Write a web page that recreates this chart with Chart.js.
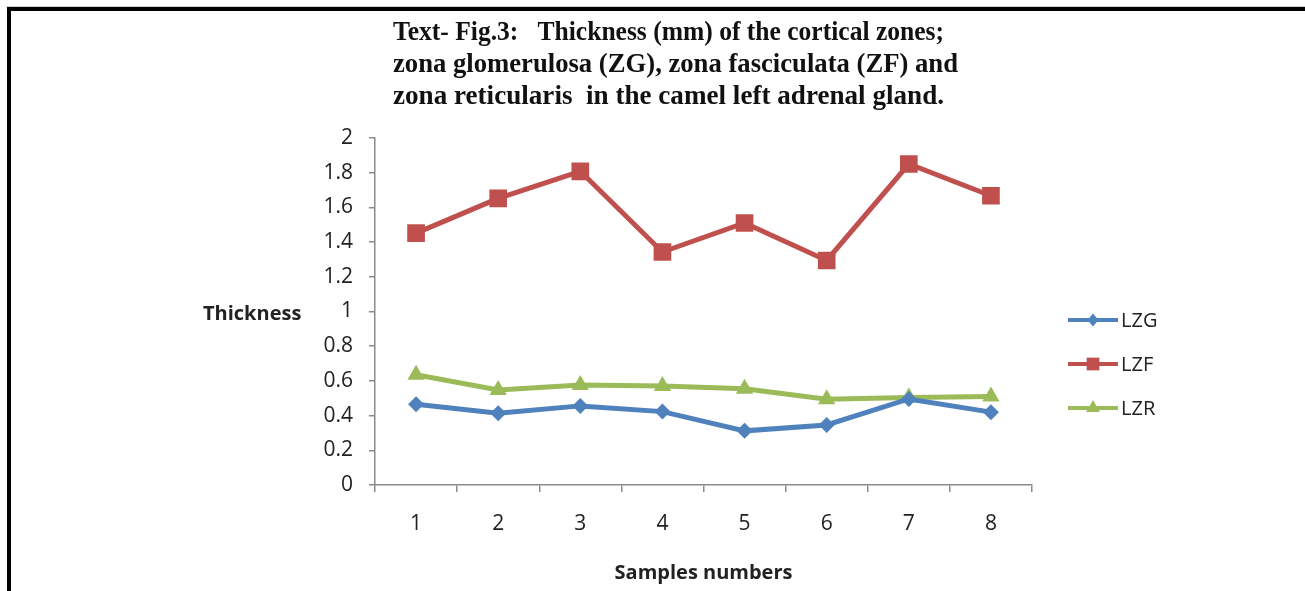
<!DOCTYPE html>
<html>
<head>
<meta charset="utf-8">
<script src="https://cdn.jsdelivr.net/npm/chart.js@4/dist/chart.umd.min.js"></script>
<style>
  html, body { margin: 0; padding: 0; background: #fff; }
  #wrap { position: relative; width: 1305px; height: 591px; }
  .pre { position: absolute; left: -9999px; top: 0; }
</style>
</head>
<body>
<div class="pre" style="font-family:'Liberation Serif';font-weight:bold">Aa</div>
<div class="pre" style="font-family:'Open Sans'">Aa</div>
<div class="pre" style="font-family:'Open Sans';font-weight:bold">Aa</div>
<div id="wrap"><canvas id="c" width="1305" height="591"></canvas></div>
<script>
// ---- data ----
const categories = ['1', '2', '3', '4', '5', '6', '7', '8'];
const seriesNames = ['LZG', 'LZF', 'LZR'];
const lzg = [0.466, 0.414, 0.456, 0.423, 0.312, 0.346, 0.496, 0.42];
const lzf = [1.452, 1.652, 1.808, 1.343, 1.51, 1.294, 1.85, 1.667];
const lzr = [0.635, 0.548, 0.577, 0.571, 0.555, 0.494, 0.504, 0.51];
const yTickLabels = ['0', '0.2', '0.4', '0.6', '0.8', '1', '1.2', '1.4', '1.6', '1.8', '2'];
const titleLines = [
  'Text- Fig.3:   Thickness (mm) of the cortical zones;',
  'zona glomerulosa (ZG), zona fasciculata (ZF) and',
  'zona reticularis  in the camel left adrenal gland.'
];
const yTitle = 'Thickness';
const xTitle = 'Samples numbers';

const colors = ['#4F81BD', '#C0504D', '#9BBB59'];
const shapes = ['rectRot', 'rect', 'triangle'];
const radii = [8, 12.5, 10];
const tickFont = "'Open Sans', sans-serif";
const titleFont = "'Liberation Serif', 'Times New Roman', serif";

function drawMarker(ctx, shape, x, y, r, color) {
  ctx.save();
  ctx.fillStyle = color;
  ctx.beginPath();
  if (shape === 'rectRot') {
    ctx.moveTo(x, y - r); ctx.lineTo(x + r * 0.85, y); ctx.lineTo(x, y + r); ctx.lineTo(x - r * 0.85, y);
  } else if (shape === 'rect') {
    const s = r * Math.SQRT1_2;
    ctx.rect(x - s, y - s, 2 * s, 2 * s);
  } else {
    const w = r * 0.866;
    ctx.moveTo(x, y - r); ctx.lineTo(x + w, y + r / 2); ctx.lineTo(x - w, y + r / 2);
  }
  ctx.closePath();
  ctx.fill();
  ctx.restore();
}

const decor = {
  id: 'decor',
  beforeDraw(chart) {
    const ctx = chart.ctx;
    ctx.save();
    ctx.fillStyle = '#fff';
    ctx.fillRect(0, 0, chart.width, chart.height);
    ctx.fillStyle = '#cfcfcf';
    ctx.fillRect(6, 6, chart.width - 6, 1);
    ctx.fillStyle = '#000';
    ctx.fillRect(7, 7, chart.width - 7, 4);
    ctx.fillRect(7, 7, 4, chart.height - 7);
    ctx.restore();
  },
  afterDraw(chart) {
    const ctx = chart.ctx;
    const area = chart.chartArea;
    ctx.save();
    // title
    ctx.fillStyle = '#111';
    ctx.font = "bold 27px " + titleFont;
    ctx.textBaseline = 'middle';
    ctx.textAlign = 'left';
    const targets = [551, 565, 551];
    const ys = [32, 64, 96];
    titleLines.forEach((t, i) => {
      const w = ctx.measureText(t).width;
      const sx = targets[i] / w;
      ctx.save();
      ctx.translate(393, ys[i] + 1);
      ctx.scale(sx, 1);
      ctx.fillText(t, 0, 0);
      ctx.restore();
    });
    // axis titles
    ctx.fillStyle = '#222';
    ctx.font = "bold 20px " + tickFont;
    ctx.textAlign = 'left';
    ctx.fillText(yTitle, 203, 314);
    ctx.textAlign = 'center';
    ctx.fillText(xTitle, (area.left + area.right) / 2, 573);
    // legend
    const ly = [320, 364, 408];
    chart.data.datasets.forEach((ds, i) => {
      ctx.strokeStyle = colors[i];
      ctx.lineWidth = 4;
      ctx.beginPath();
      ctx.moveTo(1068, ly[i]);
      ctx.lineTo(1118, ly[i]);
      ctx.stroke();
      drawMarker(ctx, shapes[i], 1093, ly[i], [6.5, 9, 8][i], colors[i]);
      ctx.fillStyle = '#222';
      ctx.font = "20px " + tickFont;
      ctx.textAlign = 'left';
      ctx.fillText(ds.label, 1121, ly[i] + 1);
    });
    ctx.restore();
  }
};

function build() {
  new Chart(document.getElementById('c'), {
    type: 'line',
    data: {
      labels: categories,
      datasets: [lzg, lzf, lzr].map((d, i) => ({
        label: seriesNames[i],
        data: d,
        borderColor: colors[i],
        backgroundColor: colors[i],
        borderWidth: 5,
        pointStyle: shapes[i],
        pointRadius: radii[i],
        pointBorderWidth: 0,
        pointBackgroundColor: colors[i],
        tension: 0,
        fill: false
      }))
    },
    options: {
      responsive: false,
      animation: false,
      events: [],
      layout: { padding: { left: 0, top: 138, right: 273, bottom: 0 } },
      plugins: { legend: { display: false }, title: { display: false }, tooltip: { enabled: false } },
      scales: {
        x: {
          offset: true,
          grid: { offset: true, drawOnChartArea: false, drawTicks: true, tickLength: 7, color: '#8a8a8a', lineWidth: 1.5 },
          border: { color: '#8a8a8a', width: 1.5 },
          ticks: { color: '#222', font: { family: tickFont, size: 21 }, padding: 19 },
          afterFit(s) { s.height = 106; }
        },
        y: {
          min: 0, max: 2,
          grid: { drawOnChartArea: false, drawTicks: true, tickLength: 6, color: '#8a8a8a', lineWidth: 1.5 },
          border: { color: '#8a8a8a', width: 1.5 },
          ticks: {
            stepSize: 0.2,
            color: '#222',
            font: { family: tickFont, size: 21 },
            padding: 16,
            callback: (v, i) => yTickLabels[i]
          },
          afterFit(s) { s.width = 375; }
        }
      }
    },
    plugins: [decor]
  });
}

Promise.all([
  document.fonts.load("bold 27px 'Liberation Serif'"),
  document.fonts.load("20px 'Open Sans'"),
  document.fonts.load("bold 20px 'Open Sans'")
]).catch(() => {}).then(build);
</script>
</body>
</html>
